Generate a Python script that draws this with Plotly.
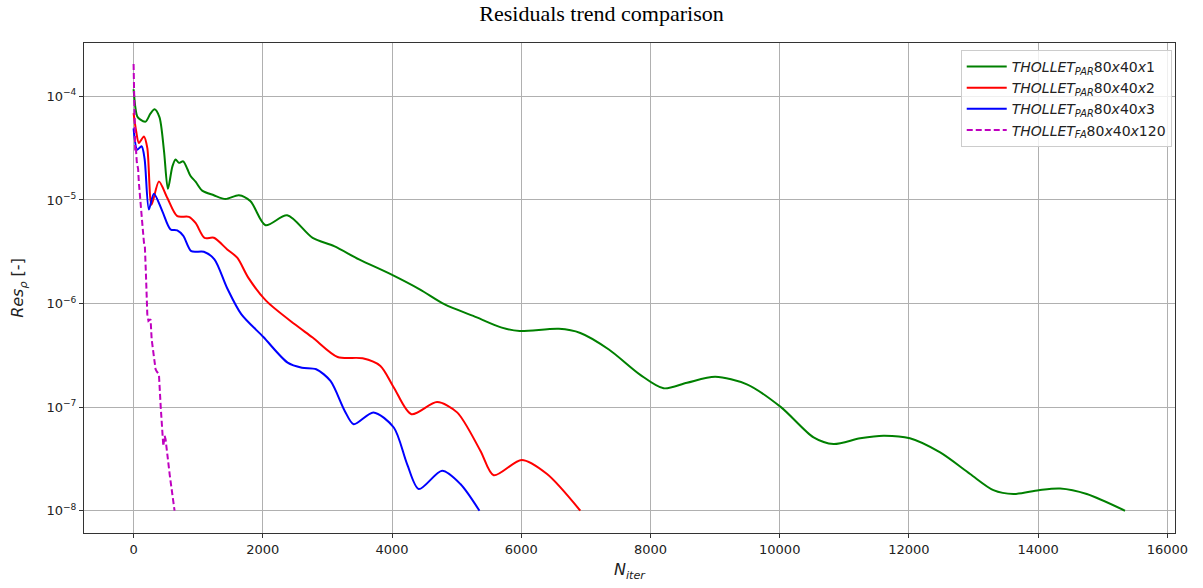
import plotly.graph_objects as go

# ---------------- data ----------------
green_x = [0, 30, 57, 100, 186, 260, 325, 400, 470, 531, 600, 650, 701, 768, 830, 882, 959,
           1062, 1242, 1423, 1629, 1810, 2042, 2377, 2771, 3103, 3489, 3986, 4428, 4815,
           5257, 5698, 5975, 6583, 6914, 7356, 7842, 8203, 8565, 9002, 9492, 10019, 10524,
           10833, 11245, 11606, 12014, 12483, 12947, 13307, 13617, 14009, 14339, 14752, 15344]
green_y = [1.17e-4, 7.6e-5, 6.4e-5, 6.0e-5, 5.7e-5, 6.8e-5, 7.5e-5, 6.3e-5, 3.0e-5, 1.28e-5,
           2.1e-5, 2.46e-5, 2.28e-5, 2.36e-5, 2.0e-5, 1.7e-5, 1.5e-5,
           1.23e-5, 1.11e-5, 1.02e-5, 1.11e-5, 9.7e-6, 5.7e-6, 7.1e-6, 4.3e-6, 3.58e-6,
           2.67e-6, 1.91e-6, 1.37e-6, 9.8e-7, 7.6e-7, 5.85e-7, 5.43e-7, 5.7e-7, 5.2e-7,
           3.6e-7, 2.05e-7, 1.52e-7, 1.72e-7, 1.96e-7, 1.66e-7, 1.0e-7, 5.1e-8, 4.4e-8,
           5.0e-8, 5.3e-8, 5.0e-8, 3.65e-8, 2.26e-8, 1.58e-8, 1.45e-8, 1.58e-8, 1.64e-8,
           1.45e-8, 1.0e-8]

red_x = [0, 40, 82, 160, 212, 278, 392, 521, 676, 856, 959, 1098, 1242, 1449, 1604, 1777,
         2053, 2495, 2771, 3157, 3544, 3820, 4027, 4300, 4697, 5007, 5367, 5573, 6006, 6399, 6914]
red_y = [6.9e-5, 4.6e-5, 3.55e-5, 4.1e-5, 3.18e-5, 9.0e-6, 1.51e-5, 1.05e-5, 6.97e-6, 6.87e-6,
         6.0e-6, 4.3e-6, 4.31e-6, 3.33e-6, 2.77e-6, 1.77e-6, 1.06e-6, 6.3e-7, 4.7e-7, 3.05e-7,
         2.96e-7, 2.5e-7, 1.55e-7, 8.55e-8, 1.12e-7, 8.9e-8, 3.8e-8, 2.2e-8, 3.09e-8, 2.26e-8,
         1.0e-8]

blue_x = [0, 57, 124, 170, 237, 314, 444, 572, 676, 770, 893, 1087, 1251, 1445, 1666, 2009,
          2384, 2605, 2826, 3047, 3268, 3406, 3711, 4027, 4233, 4414, 4775, 5058, 5352]
blue_y = [4.9e-5, 3.06e-5, 3.3e-5, 2.5e-5, 8.1e-6, 1.15e-5, 7.8e-6, 5.19e-6, 5.08e-6, 4.5e-6,
          3.2e-6, 3.16e-6, 2.67e-6, 1.42e-6, 7.9e-7, 4.75e-7, 2.69e-7, 2.4e-7, 2.32e-7,
          1.79e-7, 9.2e-8, 6.85e-8, 8.9e-8, 6.36e-8, 2.82e-8, 1.62e-8, 2.43e-8, 1.81e-8, 1.0e-8]

mag_x = [0, 10, 20, 25, 35, 50, 70, 82, 108, 134, 160, 175, 190, 212, 230, 263, 280, 340,
         360, 392, 420, 444, 460, 480, 495, 560, 634]
mag_y = [2.05e-4, 1.2e-4, 6.0e-5, 3.0e-5, 3.2e-5, 2.3e-5, 2.0e-5, 1.46e-5, 1.01e-5, 6.0e-6,
         3.9e-6, 3.5e-6, 2.0e-6, 7.9e-7, 6.8e-7, 7.05e-7, 4.5e-7, 2.32e-7, 2.2e-7, 2.08e-7,
         1.0e-7, 5.1e-8, 4.2e-8, 5.3e-8, 4.9e-8, 2.2e-8, 1.0e-8]

series_names = [
    "<i>THOLLET</i><sub><i>PAR</i></sub>80<i>x</i>40<i>x</i>1",
    "<i>THOLLET</i><sub><i>PAR</i></sub>80<i>x</i>40<i>x</i>2",
    "<i>THOLLET</i><sub><i>PAR</i></sub>80<i>x</i>40<i>x</i>3",
    "<i>THOLLET</i><sub><i>FA</i></sub>80<i>x</i>40<i>x</i>120",
]

x_ticks = [0, 2000, 4000, 6000, 8000, 10000, 12000, 14000, 16000]
x_ticklabels = ["0", "2000", "4000", "6000", "8000", "10000", "12000", "14000", "16000"]
y_ticks = [1e-8, 1e-7, 1e-6, 1e-5, 1e-4]
y_ticklabels = ["10<sup>\u22128</sup>", "10<sup>\u22127</sup>", "10<sup>\u22126</sup>",
                "10<sup>\u22125</sup>", "10<sup>\u22124</sup>"]

# ---------------- figure ----------------
fig = go.Figure()
fig.add_trace(go.Scatter(x=green_x, y=green_y, mode="lines", name=series_names[0],
                         line=dict(color="#008000", width=2, shape="spline", smoothing=0.8)))
fig.add_trace(go.Scatter(x=red_x, y=red_y, mode="lines", name=series_names[1],
                         line=dict(color="#ff0000", width=2, shape="spline", smoothing=0.8)))
fig.add_trace(go.Scatter(x=blue_x, y=blue_y, mode="lines", name=series_names[2],
                         line=dict(color="#0000ff", width=2, shape="spline", smoothing=0.8)))
fig.add_trace(go.Scatter(x=mag_x, y=mag_y, mode="lines", name=series_names[3],
                         line=dict(color="#bf00bf", width=2, dash="6px,3px")))

axis_common = dict(
    showline=True, linecolor="#333333", linewidth=1, mirror=True,
    ticks="outside", ticklen=4, tickcolor="#333333",
    showgrid=True, gridcolor="#b0b0b0", gridwidth=1, zeroline=False,
    tickfont=dict(family="DejaVu Sans", size=13, color="#222222"),
)

fig.update_layout(
    width=1203, height=588,
    margin=dict(l=84, r=28, t=43, b=55),
    paper_bgcolor="white", plot_bgcolor="white",
    title=dict(text="Residuals trend comparison", x=0.5, xref="container", xanchor="center",
               y=1 - 13 / 588, yref="container", yanchor="middle",
               font=dict(family="Liberation Serif", size=22, color="black")),
    xaxis=dict(range=[-767.5, 16117.5], tickvals=x_ticks, ticktext=x_ticklabels,
               title=dict(text="<i>N</i><sub><i>iter</i></sub>", standoff=8,
                          font=dict(family="DejaVu Sans", size=16, color="#222222")),
               **axis_common),
    yaxis=dict(type="log", range=[-8.215, -3.485], tickvals=y_ticks, ticktext=y_ticklabels,
               title=dict(text="<i>Res</i><sub><i>\u03c1</i></sub> [-]", standoff=18,
                          font=dict(family="DejaVu Sans", size=16, color="#222222")),
               **axis_common),
    legend=dict(x=0.997, y=0.986, xanchor="right", yanchor="top",
                bgcolor="rgba(255,255,255,0.8)", bordercolor="#cccccc", borderwidth=1,
                font=dict(family="DejaVu Sans", size=14, color="#222222"),
                tracegroupgap=0, itemwidth=40),
    showlegend=True,
)

fig.write_html("out.html")
